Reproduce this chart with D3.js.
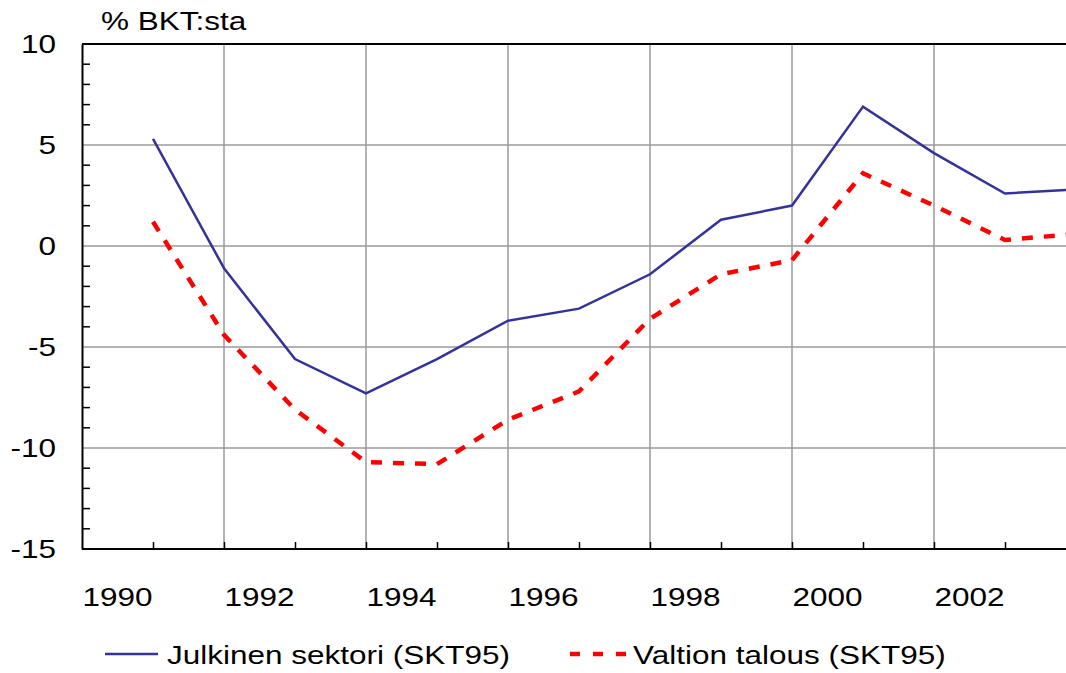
<!DOCTYPE html>
<html>
<head>
<meta charset="utf-8">
<script src="https://cdn.jsdelivr.net/npm/d3@7"></script>
<style>
  html, body { margin: 0; padding: 0; background: #fff; overflow: hidden; }
  text { font-family: "Liberation Sans", Arial, sans-serif; fill: #000; }
</style>
</head>
<body>
<svg id="chart" width="1066" height="673"></svg>
<script>
// Annual balances, % of GDP
const years = [1990, 1991, 1992, 1993, 1994, 1995, 1996, 1997, 1998, 1999, 2000, 2001, 2002, 2003];
const julkinenSektori = [5.3, -1.1, -5.6, -7.3, -5.6, -3.7, -3.1, -1.4, 1.3, 2.0, 6.9, 4.6, 2.6, 2.8];
const valtionTalous = [1.2, -4.4, -8.1, -10.7, -10.8, -8.6, -7.2, -3.6, -1.4, -0.7, 3.6, 2.0, 0.3, 0.6];
const yTicks = [-15, -10, -5, 0, 5, 10];
const xLabels = ["1990", "1992", "1994", "1996", "1998", "2000", "2002"];
const seriesNames = ["Julkinen sektori (SKT95)", "Valtion talous (SKT95)"];

const svg = d3.select("#chart");
const plotLeft = 82, plotTop = 44, plotBottom = 549, plotRight = 1066;
const yearWidth = 71;
const fontSize = 25, stretch = 1.26;

// Text in this chart is set wide: draw it scaled horizontally
function wideText(parent, px, py, str, anchor) {
  return parent.append("text")
    .attr("transform", `translate(${px},${py}) scale(${stretch},1)`)
    .attr("font-size", fontSize)
    .attr("text-anchor", anchor || "start")
    .text(str);
}

// Each year occupies one slot; values are plotted at the end of their slot
const x = d3.scaleLinear().domain([1990, 2004]).range([plotLeft, plotLeft + 14 * yearWidth]);
const y = d3.scaleLinear().domain([-15, 10]).range([plotBottom, plotTop]);

// Clip for the plot region
svg.append("defs").append("clipPath").attr("id", "plotClip")
  .append("rect").attr("x", plotLeft).attr("y", plotTop - 5)
  .attr("width", plotRight - plotLeft).attr("height", plotBottom - plotTop + 10);

// Horizontal gridlines
svg.append("g").selectAll("line").data(yTicks.filter(d => d > -15 && d < 10)).join("line")
  .attr("x1", plotLeft).attr("x2", plotRight)
  .attr("y1", d => y(d)).attr("y2", d => y(d))
  .attr("stroke", "#9a9a9a").attr("stroke-width", 1.5);

// Vertical gridlines at even years
const gridYears = d3.range(1992, 2004, 2);
svg.append("g").selectAll("line").data(gridYears).join("line")
  .attr("x1", d => x(d)).attr("x2", d => x(d))
  .attr("y1", plotTop).attr("y2", plotBottom)
  .attr("stroke", "#9a9a9a").attr("stroke-width", 1.5);

// Top border
svg.append("line").attr("x1", plotLeft).attr("x2", plotRight).attr("y1", plotTop).attr("y2", plotTop)
  .attr("stroke", "#000").attr("stroke-width", 2);

// Y axis: major labels and inward minor ticks
const yAxis = d3.axisLeft(y).tickValues(yTicks).tickSize(0).tickFormat("");
const gy = svg.append("g").attr("transform", `translate(${plotLeft},0)`).call(yAxis);
gy.select(".domain").attr("stroke", "#000").attr("stroke-width", 2);
const yLab = svg.append("g");
yTicks.forEach(v => wideText(yLab, 56, y(v) + 9, String(v), "end"));
svg.append("g").selectAll("line").data(d3.range(-14, 10).filter(d => d % 5 !== 0)).join("line")
  .attr("x1", plotLeft).attr("x2", plotLeft + 8)
  .attr("y1", d => y(d)).attr("y2", d => y(d))
  .attr("stroke", "#000").attr("stroke-width", 1.5);

// X axis: ticks at slot boundaries, labels centred in slots
const tickYears = d3.range(1991, 2004);
const xAxis = d3.axisBottom(x).tickValues(tickYears).tickSize(-7).tickFormat("");
const gx = svg.append("g").attr("transform", `translate(0,${plotBottom})`).call(xAxis);
gx.select(".domain").attr("stroke", "#000").attr("stroke-width", 2).attr("d", `M${plotLeft},0H${plotRight}`);
gx.selectAll(".tick line").attr("stroke", "#000").attr("stroke-width", 1.5);

const xLab = svg.append("g");
xLabels.forEach(d => wideText(xLab, x(+d + 0.5), 606, d, "middle"));

// Unit label
wideText(svg, 101, 30, "% BKT:sta");

// Series lines
const line = d3.line().x((d, i) => x(years[i] + 1)).y(d => y(d));
const plot = svg.append("g").attr("clip-path", "url(#plotClip)");
plot.append("path").datum(julkinenSektori)
  .attr("d", line).attr("fill", "none")
  .attr("stroke", "#333399").attr("stroke-width", 2.5).attr("stroke-linejoin", "miter");
plot.append("path").datum(valtionTalous)
  .attr("d", line).attr("fill", "none")
  .attr("stroke", "#ff0000").attr("stroke-width", 4.5).attr("stroke-dasharray", "11,11");

// Legend
const legend = svg.append("g");
legend.append("line").attr("x1", 105).attr("x2", 158).attr("y1", 654).attr("y2", 654)
  .attr("stroke", "#333399").attr("stroke-width", 2.5);
wideText(legend, 167, 664, seriesNames[0]);
legend.append("line").attr("x1", 570).attr("x2", 628).attr("y1", 654).attr("y2", 654)
  .attr("stroke", "#ff0000").attr("stroke-width", 4.5).attr("stroke-dasharray", "10,13");
wideText(legend, 633, 664, seriesNames[1]);
</script>
</body>
</html>
